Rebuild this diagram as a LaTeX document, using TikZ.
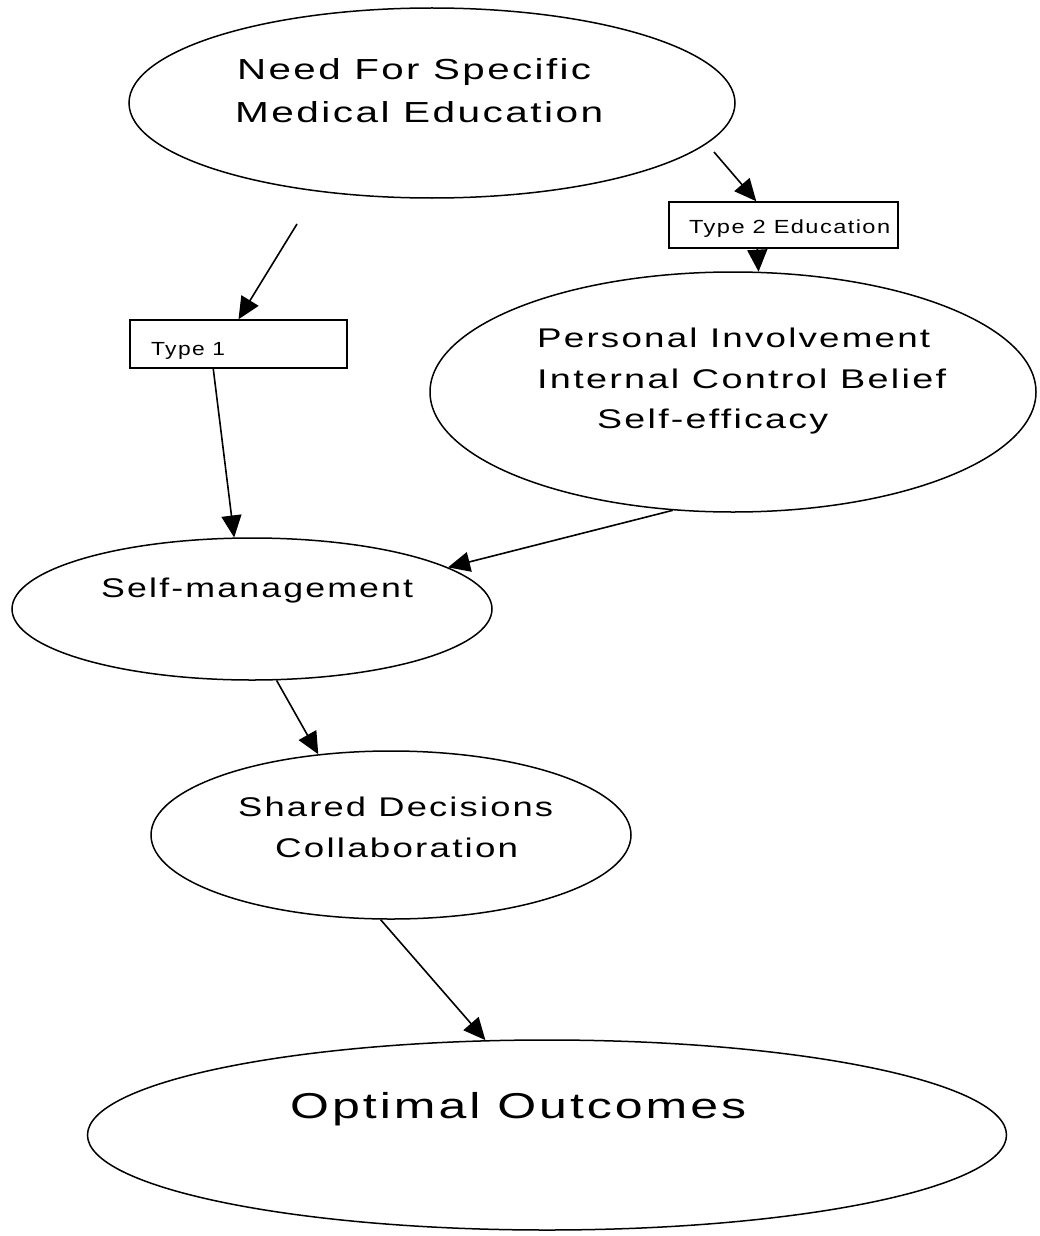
\documentclass[tikz,border=0pt]{standalone}
\usepackage{fontspec}
\usepackage{graphicx}
\usetikzlibrary{shapes.geometric,arrows.meta}
\newfontfamily\lbfont{Liberation Sans}[LetterSpace=6]
% text stretched to a fixed width, natural height kept
\newcommand\fitted[3]{\resizebox{#1}{\height}{\fontsize{#2}{#2}\selectfont\lbfont #3}}
\tikzset{
  oval/.style={draw, ellipse, line width=1.5pt, inner sep=0pt},
  tagbox/.style={draw, rectangle, line width=1.5pt, inner sep=0pt},
  txt/.style={anchor=base west, inner sep=0pt},
  link/.style={line width=1.6pt, -{Triangle[length=22pt,width=20pt]}}
}
\begin{document}
\begin{tikzpicture}[x=1pt,y=-1pt]
\fill[white] (0,0) rectangle (1039,1236);
\useasboundingbox (0,0) rectangle (1039,1236);

% ovals
\node[oval, minimum width=606pt, minimum height=190pt] (need) at (432,103) {};
\node[oval, minimum width=606pt, minimum height=240pt] (pers) at (733,392) {};
\node[oval, minimum width=480pt, minimum height=142pt] (selfm) at (252,609) {};
\node[oval, minimum width=480pt, minimum height=168pt] (shared) at (391,835) {};
\node[oval, minimum width=919pt, minimum height=190pt] (opt) at (547,1135) {};

% education type boxes
\node[tagbox, minimum width=229pt, minimum height=46pt] (type2) at (783.5,225) {};
\node[tagbox, minimum width=217pt, minimum height=48pt] (type1) at (238.5,344) {};

% labels
\node[txt] (needA) at (237,80) {\fitted{354pt}{29pt}{Need For Specific}};
\node[txt] (needB) at (235,123) {\fitted{368pt}{29pt}{Medical Education}};
\node[txt] (persA) at (537,347) {\fitted{393pt}{27pt}{Personal Involvement}};
\node[txt] (persB) at (537,388) {\fitted{409pt}{27pt}{Internal Control Belief}};
\node[txt] (persC) at (597,428) {\fitted{231pt}{27pt}{Self-efficacy}};
\node[txt] (selfmA) at (101,597) {\fitted{312pt}{27pt}{Self-management}};
\node[txt] (sharedA) at (238,816) {\fitted{315pt}{27pt}{Shared Decisions}};
\node[txt] (sharedB) at (275,857) {\fitted{243pt}{27pt}{Collaboration}};
\node[txt] (optA) at (290,1118) {\fitted{456pt}{36pt}{Optimal Outcomes}};
\node[txt] (type2A) at (689,233) {\fitted{201pt}{19pt}{Type 2 Education}};
\node[txt] (type1A) at (151,355) {\fitted{74pt}{19pt}{Type 1}};

% loose arrow starts
\coordinate (fromNeedL) at (297,224);
\coordinate (fromNeedR) at (714,152);

% connectors
\draw[link] (fromNeedL) -- (type1.north);
\draw[link] (fromNeedR) -- ([xshift=88pt]type2.north west);
\draw[link] ([xshift=89pt]type2.south west) -- (pers.78);
\draw[link] ([xshift=84pt]type1.south west) -- (selfm.104);
\draw[link] (pers.243) -- (selfm.12);
\draw[link] (selfm.289.5) -- (shared.132.4);
\draw[link] (shared.263.2) -- (opt.123.8);
\end{tikzpicture}
\end{document}
